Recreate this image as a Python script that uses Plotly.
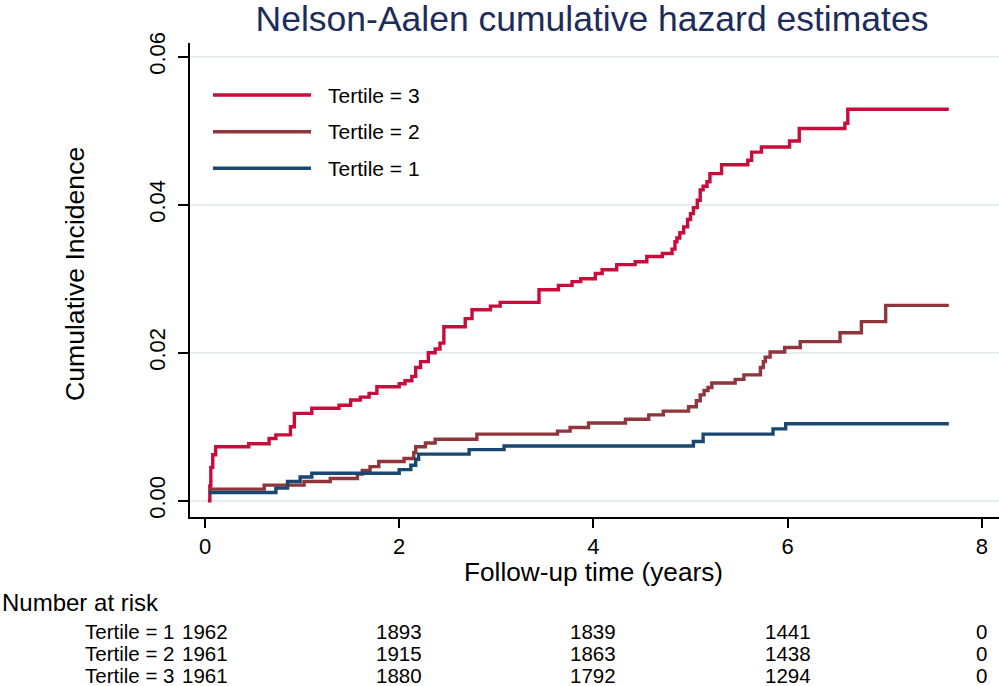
import plotly.graph_objects as go

# ---- data ----
t3_time = [0.03, 0.05, 0.06, 0.08, 0.11, 0.45, 0.66, 0.73, 0.88, 0.92, 1.10, 1.38, 1.50, 1.60, 1.69,
           1.77, 2.00, 2.06, 2.13, 2.17, 2.22, 2.30, 2.37, 2.42, 2.46, 2.68, 2.75, 2.94, 3.04, 3.44,
           3.64, 3.78, 3.87, 4.02, 4.09, 4.24, 4.43, 4.55, 4.71, 4.81, 4.84, 4.86, 4.89, 4.93, 4.97,
           5.00, 5.03, 5.07, 5.10, 5.13, 5.17, 5.20, 5.32, 5.59, 5.63, 5.73, 6.02, 6.12, 6.59, 6.62, 7.66]
t3_haz = [0.0000, 0.0020, 0.0045, 0.0062, 0.0073, 0.0077, 0.0084, 0.0089, 0.0100, 0.0118, 0.0125, 0.0129,
          0.0136, 0.0140, 0.0145, 0.0154, 0.0158, 0.0162, 0.0168, 0.0180, 0.0188, 0.0200, 0.0205, 0.0213,
          0.0235, 0.0246, 0.0258, 0.0263, 0.0268, 0.0285, 0.0291, 0.0296, 0.0300, 0.0307, 0.0312, 0.0319,
          0.0323, 0.0330, 0.0334, 0.0340, 0.0350, 0.0355, 0.0362, 0.0370, 0.0380, 0.0388, 0.0396, 0.0406,
          0.0420, 0.0425, 0.0431, 0.0442, 0.0454, 0.0460, 0.0471, 0.0478, 0.0486, 0.0503, 0.0510, 0.0529,
          0.0529]

t2_time = [0.04, 0.61, 1.02, 1.29, 1.57, 1.62, 1.70, 1.79, 2.05, 2.15, 2.17, 2.27, 2.37, 2.80, 3.63,
           3.76, 3.95, 4.33, 4.57, 4.72, 4.98, 5.06, 5.10, 5.14, 5.18, 5.22, 5.46, 5.55, 5.72, 5.75,
           5.77, 5.82, 5.97, 6.13, 6.54, 6.76, 7.01, 7.66]
t2_haz = [0.00157, 0.0021, 0.0026, 0.0030, 0.0036, 0.0041, 0.0046, 0.0053, 0.0057, 0.0065, 0.0073,
          0.0078, 0.0083, 0.0090, 0.0094, 0.0099, 0.0105, 0.0110, 0.0116, 0.0121, 0.0127, 0.0135,
          0.0143, 0.0149, 0.0153, 0.0159, 0.0164, 0.0170, 0.0180, 0.0188, 0.0194, 0.0201, 0.0207,
          0.0215, 0.0227, 0.0242, 0.0264, 0.0264]

t1_time = [0.04, 0.73, 0.85, 0.98, 1.10, 2.00, 2.12, 2.17, 2.20, 2.72, 3.08, 5.03, 5.13, 5.85, 5.98, 7.66]
t1_haz = [0.0011, 0.0017, 0.0026, 0.0032, 0.0037, 0.0042, 0.0048, 0.0056, 0.0063, 0.0069, 0.0074,
          0.0080, 0.0090, 0.0097, 0.0104, 0.0104]

series_names = ["Tertile = 3", "Tertile = 2", "Tertile = 1"]
series_colors = ["#c80c3c", "#90353b", "#1a476f"]

risk_times = [0, 2, 4, 6, 8]
risk_labels = ["Tertile = 1", "Tertile = 2", "Tertile = 3"]
risk_t1 = [1962, 1893, 1839, 1441, 0]
risk_t2 = [1961, 1915, 1863, 1438, 0]
risk_t3 = [1961, 1880, 1792, 1294, 0]

x_ticks = [0, 2, 4, 6, 8]
y_ticks = [0.00, 0.02, 0.04, 0.06]
y_tick_text = ["0.00", "0.02", "0.04", "0.06"]

# ---- layout geometry ----
W, H = 999, 686
L, R, T, B = 190, 999, 43, 517
FONT = "Liberation Sans, Arial, sans-serif"


def px(xp):
    return (xp - L) / (R - L)


def py(yp):
    return (B - yp) / (B - T)


fig = go.Figure()
for name, color, tx, hz in zip(series_names, series_colors,
                               [t3_time, t2_time, t1_time], [t3_haz, t2_haz, t1_haz]):
    fig.add_trace(go.Scatter(x=tx, y=hz, mode="lines", line=dict(color=color, width=3.4, shape="hv"),
                             name=name, showlegend=False))

annotations = []
shapes = []

# legend (drawn manually to match long line samples)
leg_y = [95, 131.7, 168.3]
for name, color, yy in zip(series_names, series_colors, leg_y):
    shapes.append(dict(type="line", xref="paper", yref="paper", x0=px(213), x1=px(311),
                       y0=py(yy), y1=py(yy), line=dict(color=color, width=3.4)))
    annotations.append(dict(text=name, xref="paper", yref="paper", x=px(326), y=py(yy),
                            xanchor="left", yanchor="middle", showarrow=False,
                            font=dict(size=21, color="black", family=FONT)))

# y title
annotations.append(dict(text="Cumulative Incidence", xref="paper", yref="paper", x=px(75), y=py(274),
                        textangle=-90, xanchor="center", yanchor="middle", showarrow=False,
                        font=dict(size=26.6, color="black", family=FONT)))
# x title
annotations.append(dict(text="Follow-up time (years)", xref="paper", yref="paper", x=px(593), y=py(572),
                        xanchor="center", yanchor="middle", showarrow=False,
                        font=dict(size=26.2, color="black", family=FONT)))

# number at risk table
annotations.append(dict(text="Number at risk", xref="paper", yref="paper", x=px(0), y=py(602),
                        xanchor="left", yanchor="middle", showarrow=False,
                        font=dict(size=24, color="black", family=FONT)))
row_y = [631, 653.5, 675.5]
for lab, vals, yy in zip(risk_labels, [risk_t1, risk_t2, risk_t3], row_y):
    annotations.append(dict(text=lab, xref="paper", yref="paper", x=px(176), y=py(yy),
                            xanchor="right", yanchor="middle", showarrow=False,
                            font=dict(size=20.5, color="black", family=FONT)))
    for tt, v in zip(risk_times, vals):
        annotations.append(dict(text=str(v), xref="x", yref="paper", x=tt, y=py(yy),
                                xanchor="center", yanchor="middle", showarrow=False,
                                font=dict(size=20.5, color="black", family=FONT)))

x0_px, x_per = 205.0, 97.1
y0_px, y_per = 500.7, 7400.0

fig.update_layout(
    width=W, height=H,
    margin=dict(l=L, r=W - R, t=T, b=H - B, pad=0),
    paper_bgcolor="white", plot_bgcolor="white",
    title=dict(text="Nelson-Aalen cumulative hazard estimates", x=592 / W, xanchor="center",
               y=1 - 19 / H, yanchor="middle",
               font=dict(size=35.5, color="#1c2c5b", family=FONT)),
    xaxis=dict(range=[(L - x0_px) / x_per, (R - x0_px) / x_per], tickvals=x_ticks,
               ticks="outside", ticklen=9, tickwidth=1.5, tickcolor="black",
               showline=True, linecolor="black", linewidth=1.5, showgrid=False, zeroline=False,
               tickfont=dict(size=22, color="black", family=FONT)),
    yaxis=dict(range=[(y0_px - B) / y_per, (y0_px - T) / y_per], tickvals=y_ticks, ticktext=y_tick_text,
               tickangle=-90, ticks="outside", ticklen=10, tickwidth=1.5, tickcolor="black",
               showline=True, linecolor="black", linewidth=1.5, showgrid=True, gridcolor="#e6eef1",
               gridwidth=2, zeroline=False, ticklabelstandoff=4,
               tickfont=dict(size=22, color="black", family=FONT)),
    annotations=annotations, shapes=shapes,
    showlegend=False,
)

fig.write_html("out.html", config={"displayModeBar": False},
               post_script="document.body.style.margin='0';document.body.style.padding='0';"
                           "document.documentElement.style.overflow='hidden';")
